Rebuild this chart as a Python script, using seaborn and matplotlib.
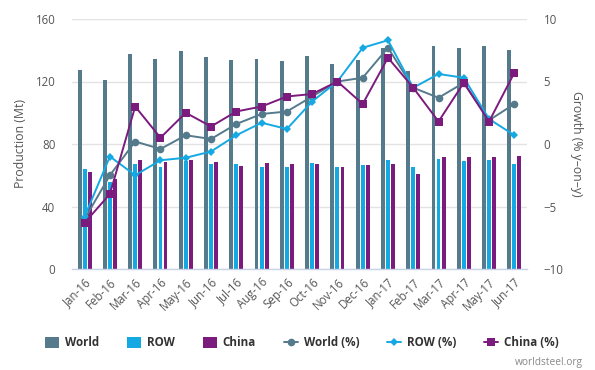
import numpy as np
import pandas as pd
import matplotlib
matplotlib.use("Agg")
import matplotlib.pyplot as plt
from matplotlib.patches import Patch
from matplotlib.lines import Line2D
from matplotlib.ticker import FixedLocator
import seaborn as sns

months = ["Jan-16", "Feb-16", "Mar-16", "Apr-16", "May-16", "Jun-16", "Jul-16", "Aug-16", "Sep-16",
          "Oct-16", "Nov-16", "Dec-16", "Jan-17", "Feb-17", "Mar-17", "Apr-17", "May-17", "Jun-17"]
world = [127.5, 121, 137.5, 134.5, 139.5, 135.5, 133.5, 134.5, 133, 136.5, 131.5, 133.5, 141.5, 126.5, 142.5, 141.5, 142.5, 140]
row = [64, 56, 67.5, 65, 69, 67, 67, 65.5, 65, 68, 65.5, 66.5, 70, 65.5, 70.5, 69, 70, 67]
china = [62, 57.5, 70, 68.5, 70, 68.5, 66, 68, 67.5, 67.5, 65.5, 66.5, 67, 60.5, 71.5, 72, 71.5, 72.5]
world_pct = [-6.0, -2.5, 0.2, -0.4, 0.7, 0.4, 1.6, 2.4, 2.6, 3.8, 5.0, 5.3, 7.7, 4.5, 3.7, 4.9, 1.9, 3.2]
row_pct = [-5.8, -1.0, -2.5, -1.3, -1.1, -0.6, 0.7, 1.7, 1.2, 3.4, 5.0, 7.7, 8.3, 4.5, 5.6, 5.3, 2.0, 0.7]
china_pct = [-6.3, -4.0, 3.0, 0.5, 2.5, 1.4, 2.6, 3.0, 3.8, 4.0, 5.0, 3.2, 6.9, 4.5, 1.8, 4.9, 1.8, 5.7]

series = ["World", "ROW", "China"]
c_world = "#557a8c"
c_row = "#14a9e3"
c_china = "#7b1b7d"
palette = {"World": c_world, "ROW": c_row, "China": c_china}

bars = pd.DataFrame({
    "month": months * 3,
    "value": world + row + china,
    "series": ["World"] * len(months) + ["ROW"] * len(months) + ["China"] * len(months),
})
n = len(months)
idx = np.arange(n)

sns.set_style("white")
plt.rcParams["font.family"] = ["Open Sans", "DejaVu Sans"]

fig = plt.figure(figsize=(5.95, 3.7), dpi=100)
ax = fig.add_axes([72 / 595, 1 - 269 / 370, (527 - 72) / 595, (269 - 19) / 370])

sns.barplot(data=bars, x="month", y="value", hue="series", hue_order=series,
            palette=palette, order=months, width=0.6, gap=0.22, saturation=1,
            ax=ax, legend=False, edgecolor="none")

ax.set_ylim(0, 160)
ax.set_yticks([0, 40, 80, 120, 160])
ax.set_xlim(-0.5, n - 0.5)
ax.yaxis.grid(True, color="#e3e3e3", linewidth=1)
ax.set_axisbelow(True)
for s in ["top", "right", "left"]:
    ax.spines[s].set_visible(False)
ax.spines["bottom"].set_color("#c8d3e8")
ax.spines["bottom"].set_linewidth(1)

ax.set_xticks(idx)
ax.set_xticklabels(months, rotation=45, ha="right", rotation_mode="anchor", fontsize=8.3, color="#555555")
ax.tick_params(axis="x", which="major", length=0, pad=5)
ax.xaxis.set_minor_locator(FixedLocator(np.arange(-0.5, n, 1.0)))
ax.tick_params(axis="x", which="minor", length=6, color="#c8d3e8", width=1, direction="out")
ax.tick_params(axis="y", length=0, labelsize=8.3, labelcolor="#555555", pad=12)
ax.set_xlabel("")
ax.set_ylabel("Production (Mt)", fontsize=8.8, color="#555555", labelpad=6)

ax2 = ax.twinx()
lines = pd.DataFrame({
    "x": np.concatenate([idx, idx, idx]),
    "pct": world_pct + row_pct + china_pct,
    "series": ["World (%)"] * n + ["ROW (%)"] * n + ["China (%)"] * n,
})
sns.lineplot(data=lines[lines.series == "World (%)"], x="x", y="pct", color=c_world, marker="o",
             markersize=5.5, markeredgewidth=0, linewidth=1.4, ax=ax2, legend=False, zorder=3)
sns.lineplot(data=lines[lines.series == "ROW (%)"], x="x", y="pct", color=c_row, marker="D",
             markersize=3.8, markeredgewidth=0, linewidth=1.4, ax=ax2, legend=False, zorder=4)
sns.lineplot(data=lines[lines.series == "China (%)"], x="x", y="pct", color=c_china, marker="s",
             markersize=6, markeredgewidth=0, linewidth=1.4, ax=ax2, legend=False, zorder=5)
ax2.set_ylim(-10, 10)
ax2.set_yticks([-10, -5, 0, 5, 10])
ax2.set_yticklabels(["\u221210", "\u22125", "0", "5", "10"])
ax2.set_xlim(-0.5, n - 0.5)
for s in ["top", "right", "left", "bottom"]:
    ax2.spines[s].set_visible(False)
ax2.grid(False)
ax2.tick_params(axis="y", length=0, labelsize=8.3, labelcolor="#555555", pad=12)
ax2.set_xlabel("")
ax2.set_ylabel("Growth (% y\u2013on\u2013y)", fontsize=8.8, color="#555555", rotation=270, labelpad=14)

handles = [
    Patch(facecolor=c_world, edgecolor="none"),
    Patch(facecolor=c_row, edgecolor="none"),
    Patch(facecolor=c_china, edgecolor="none"),
    Line2D([0], [0], color=c_world, marker="o", markersize=5.5, linewidth=1.4, markeredgewidth=0),
    Line2D([0], [0], color=c_row, marker="D", markersize=3.8, linewidth=1.4, markeredgewidth=0),
    Line2D([0], [0], color=c_china, marker="s", markersize=5.5, linewidth=1.4, markeredgewidth=0),
]
labels = ["World", "ROW", "China", "World (%)", "ROW (%)", "China (%)"]
leg = fig.legend(handles, labels, loc="center", bbox_to_anchor=(302 / 595, 1 - 343 / 370), ncol=6,
                 frameon=False, handlelength=1.2, handleheight=1.1, handletextpad=0.5, columnspacing=2.4,
                 prop={"weight": "bold", "size": 8.4})
for t in leg.get_texts():
    t.set_color("#333333")

fig.text(583 / 595, 1 - 362 / 370, "worldsteel.org", ha="right", va="center", fontsize=7.3, color="#888888")

fig.savefig("out.png", dpi=100)
